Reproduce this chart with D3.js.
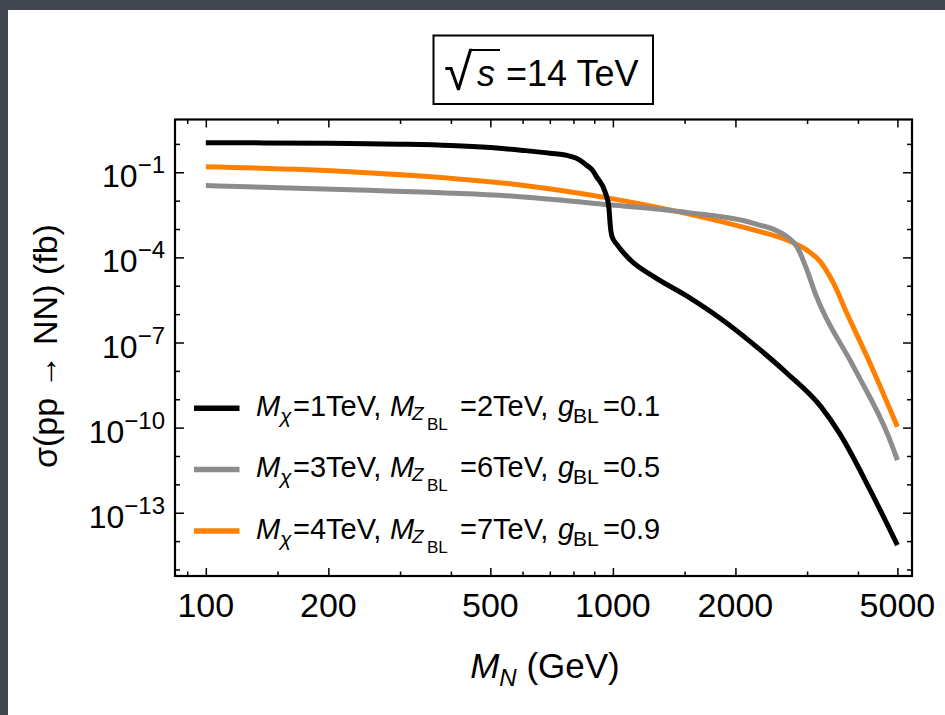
<!DOCTYPE html>
<html lang="en">
<head>
<meta charset="UTF-8">
<title>sigma(pp -> NN) at 14 TeV</title>
<script src="https://cdn.jsdelivr.net/npm/d3@7"></script>
<style>
    html, body {
        margin: 0;
        padding: 0;
        background: #41464f;
    }
    #chart {
        display: block;
    }
    text {
        font-family: "Liberation Sans", Arial, sans-serif;
        fill: #000;
    }
</style>
</head>
<body>
<svg id="chart" width="945" height="715"></svg>
<script>
    // heavy neutrino mass M_N (GeV) and cross section (fb)
    var massBlack = [100, 200, 300, 400, 500, 594, 700, 783, 830, 860, 890, 912, 959, 977, 986, 995, 1024, 1104, 1260, 1525, 1834, 2201, 2681, 3240, 3611, 4285, 5000];
    var sigmaBlack = [1.10, 1.05, 0.98, 0.88, 0.74, 0.60, 0.47, 0.37, 0.27, 0.18, 0.12, 0.069, 0.0186, 6.2e-3, 1.2e-3, 5.4e-4, 2.8e-4, 8.1e-5, 2.1e-5, 4.2e-6, 7.1e-7, 9.3e-8, 8.1e-9, 5.6e-10, 6.0e-11, 6.3e-13, 7.2e-15];

    var massGray = [100, 226, 592, 985, 1520, 2215, 2676, 2832, 2997, 3141, 3901, 4756, 5000];
    var sigmaGray = [0.0339, 0.024, 0.0138, 7.1e-3, 3.8e-3, 1.58e-3, 5.4e-4, 2.4e-4, 3.6e-5, 5.4e-6, 1.4e-8, 4.8e-11, 7.2e-12];

    var massOrange = [100, 226, 592, 985, 1520, 2215, 2676, 2997, 3231, 3483, 3757, 4209, 5000];
    var sigmaOrange = [0.158, 0.105, 0.0355, 0.012, 3.5e-3, 9.3e-4, 4.1e-4, 1.8e-4, 7.1e-5, 1.23e-5, 1.07e-6, 3.2e-8, 1.07e-10];

    // legend parameters
    var legendMchi = ["1", "3", "4"];
    var legendMz = ["2", "6", "7"];
    var legendG = ["0.1", "0.5", "0.9"];

    // ticks
    var xMajor = [100, 200, 500, 1000, 2000, 5000];
    var xMinor = [90, 150, 300, 400, 600, 700, 800, 900, 1500, 3000, 4000];
    var yMajorExp = [-1, -4, -7, -10, -13];
    var yMinorExp = [-15, -14, -12, -11, -9, -8, -6, -5, -3, -2, 0];

    var series = [
        {mass: massBlack, sigma: sigmaBlack, color: "#000000"},
        {mass: massGray, sigma: sigmaGray, color: "#8c8c8c"},
        {mass: massOrange, sigma: sigmaOrange, color: "#ff8000"}
    ];

    // plot frame (window.top is reserved, so no plain "top" here)
    var pL = 175, pR = 912, pT = 119.5, pB = 576;

    var svg = d3.select("#chart");

    // white page area (dark slide border on top/left)
    svg.append("rect")
        .attr("x", 8).attr("y", 10)
        .attr("width", 945).attr("height", 715)
        .attr("fill", "#ffffff");

    var x = d3.scaleLog().domain([84, 5430]).range([pL, pR]);
    var y = d3.scaleLog().domain([Math.pow(10, -15.23), Math.pow(10, 0.86)]).range([pB, pT]);

    // curves
    var line = d3.line()
        .x(function (d) { return x(d[0]); })
        .y(function (d) { return y(d[1]); })
        .curve(d3.curveMonotoneX);

    var plot = svg.append("g");
    plot.append("clipPath").attr("id", "clip")
        .append("rect").attr("x", pL).attr("y", pT)
        .attr("width", pR - pL).attr("height", pB - pT);

    series.slice().reverse().forEach(function (s) {
        plot.append("path")
            .datum(d3.zip(s.mass, s.sigma))
            .attr("d", line)
            .attr("fill", "none")
            .attr("stroke", s.color)
            .attr("stroke-width", 5)
            .attr("stroke-linejoin", "round")
            .attr("clip-path", "url(#clip)");
    });

    // ticks (inward, on all four sides)
    function addAxis(axis, tx, ty) {
        var g = svg.append("g")
            .attr("transform", "translate(" + tx + "," + ty + ")")
            .call(axis);
        g.select(".domain").remove();
        g.selectAll("line").attr("stroke", "#000").attr("stroke-width", 1.5);
        g.selectAll("text").remove();
        return g;
    }
    var yMajorVals = yMajorExp.map(function (e) { return Math.pow(10, e); });
    var yMinorVals = yMinorExp.map(function (e) { return Math.pow(10, e); });

    addAxis(d3.axisBottom(x).tickValues(xMajor).tickSize(-8), 0, pB);
    addAxis(d3.axisBottom(x).tickValues(xMinor).tickSize(-4.5), 0, pB);
    addAxis(d3.axisTop(x).tickValues(xMajor).tickSize(-8), 0, pT);
    addAxis(d3.axisTop(x).tickValues(xMinor).tickSize(-4.5), 0, pT);
    addAxis(d3.axisLeft(y).tickValues(yMajorVals).tickSize(-9), pL, 0);
    addAxis(d3.axisLeft(y).tickValues(yMinorVals).tickSize(-5), pL, 0);
    addAxis(d3.axisRight(y).tickValues(yMajorVals).tickSize(-9), pR, 0);
    addAxis(d3.axisRight(y).tickValues(yMinorVals).tickSize(-5), pR, 0);

    // frame
    svg.append("rect")
        .attr("x", pL).attr("y", pT)
        .attr("width", pR - pL).attr("height", pB - pT)
        .attr("fill", "none")
        .attr("stroke", "#000")
        .attr("stroke-width", 2.2);

    // x tick labels
    svg.selectAll(".xlab").data(xMajor).enter().append("text")
        .attr("class", "xlab")
        .attr("x", function (d) { return x(d); })
        .attr("y", 617)
        .attr("text-anchor", "middle")
        .attr("font-size", 34)
        .text(function (d) { return d; });

    // y tick labels 10^n
    var ylab = svg.selectAll(".ylab").data(yMajorExp).enter().append("text")
        .attr("class", "ylab")
        .attr("x", 165)
        .attr("y", function (d) { return y(Math.pow(10, d)) + 15; })
        .attr("text-anchor", "end")
        .attr("font-size", 32);
    ylab.append("tspan").text("10");
    ylab.append("tspan")
        .attr("dy", -14)
        .attr("font-size", 24)
        .text(function (d) { return "\u2212" + Math.abs(d); });

    // axis titles
    var xt = svg.append("text")
        .attr("x", 545).attr("y", 678)
        .attr("text-anchor", "middle")
        .attr("font-size", 35);
    xt.append("tspan").attr("font-style", "italic").text("M");
    xt.append("tspan").attr("font-style", "italic").attr("font-size", 24).attr("dy", 8).text("N");
    xt.append("tspan").attr("dy", -8).text(" (GeV)");

    svg.append("text")
        .attr("transform", "translate(57,346) rotate(-90)")
        .attr("text-anchor", "middle")
        .attr("font-size", 34)
        .text("\u03c3(pp \u2192 NN) (fb)");

    // title box
    svg.append("rect")
        .attr("x", 433.5).attr("y", 35.5)
        .attr("width", 219.5).attr("height", 68.5)
        .attr("fill", "#fff")
        .attr("stroke", "#000")
        .attr("stroke-width", 2);
    var tt = svg.append("text").attr("y", 86).attr("font-size", 36);
    tt.append("tspan").attr("x", 444).attr("y", 90).attr("font-size", 52).text("\u221a");
    tt.append("tspan").attr("x", 477).attr("y", 86).attr("font-style", "italic").text("s");
    tt.append("tspan").attr("x", 506).text("=14 TeV");
    svg.append("line")
        .attr("x1", 472).attr("x2", 500)
        .attr("y1", 50).attr("y2", 50)
        .attr("stroke", "#000").attr("stroke-width", 2);

    // legend
    var legendY = [408.3, 469.6, 531];
    series.forEach(function (s, i) {
        var ly = legendY[i];
        svg.append("line")
            .attr("x1", 194).attr("x2", 239.5)
            .attr("y1", ly).attr("y2", ly)
            .attr("stroke", s.color)
            .attr("stroke-width", 5.5);
        var t = svg.append("text").attr("font-size", 29);
        var base = ly + 7.5;
        t.append("tspan").attr("x", 256).attr("y", base).attr("font-style", "italic").text("M");
        t.append("tspan").attr("x", 280).attr("y", base + 7).attr("font-style", "italic").attr("font-size", 21).text("\u03c7");
        t.append("tspan").attr("x", 293).attr("y", base).text("=" + legendMchi[i] + "TeV,");
        t.append("tspan").attr("x", 390).attr("y", base).attr("font-style", "italic").text("M");
        t.append("tspan").attr("x", 412).attr("y", base + 4).attr("font-style", "italic").attr("font-size", 19).text("Z");
        t.append("tspan").attr("x", 427).attr("y", base + 14).attr("font-size", 17).text("BL");
        t.append("tspan").attr("x", 460).attr("y", base).text("=" + legendMz[i] + "TeV,");
        t.append("tspan").attr("x", 558).attr("y", base).attr("font-style", "italic").text("g");
        t.append("tspan").attr("x", 573).attr("y", base + 7).attr("font-size", 21).text("BL");
        t.append("tspan").attr("x", 603).attr("y", base).text("=" + legendG[i]);
    });
</script>
</body>
</html>
